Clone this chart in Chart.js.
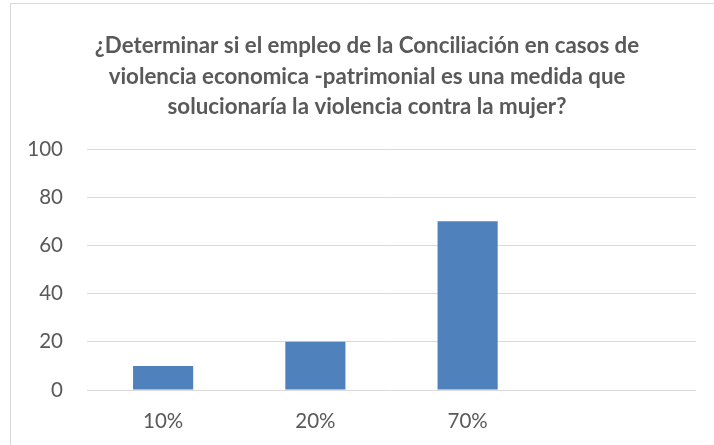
<!DOCTYPE html>
<html>
<head>
<meta charset="utf-8">
<script src="https://cdn.jsdelivr.net/npm/chart.js@4.4.1/dist/chart.umd.min.js"></script>
<style>
html,body{margin:0;padding:0;background:#fff;}
#wrap{width:714px;height:445px;position:relative;}
</style>
</head>
<body>
<div id="wrap"><canvas id="c" width="714" height="445"></canvas></div>
<script>
const titleLines = [
  '¿Determinar si el empleo de la Conciliación en casos de',
  'violencia economica -patrimonial es una medida que',
  'solucionaría la violencia contra la mujer?'
];
const categories = ['10%', '20%', '70%', ''];
const values = [10, 20, 70, null];
const yTicks = [0, 20, 40, 60, 80, 100];

const borderPlugin = {
  id: 'outerBorder',
  beforeDraw(chart) {
    const ctx = chart.ctx;
    ctx.save();
    ctx.fillStyle = '#fff';
    ctx.fillRect(0, 0, chart.width, chart.height);
    ctx.strokeStyle = '#d9d9d9';
    ctx.lineWidth = 1;
    ctx.beginPath();
    ctx.moveTo(10.5, chart.height);
    ctx.lineTo(10.5, 3.5);
    ctx.lineTo(chart.width, 3.5);
    ctx.stroke();
    ctx.restore();
  },
  afterDraw(chart) {
    const ctx = chart.ctx;
    ctx.save();
    ctx.fillStyle = '#595959';
    ctx.font = 'bold 22.3px Lato';
    ctx.textAlign = 'center';
    ctx.textBaseline = 'middle';
    titleLines.forEach((line, i) => ctx.fillText(line, 367, 46 + i * 30.5));
    ctx.restore();
  }
};

new Chart(document.getElementById('c'), {
  type: 'bar',
  data: {
    labels: categories,
    datasets: [{
      data: values,
      backgroundColor: '#4f81bd',
      categoryPercentage: 1,
      barPercentage: 0.395
    }]
  },
  plugins: [borderPlugin],
  options: {
    responsive: false,
    animation: false,
    layout: { padding: { left: 10, right: 18, top: 149, bottom: 0 } },
    plugins: {
      legend: { display: false },
      tooltip: { enabled: false },
      title: { display: false }
    },
    scales: {
      x: {
        grid: { display: false, drawTicks: false },
        border: { display: false },
        ticks: { color: '#595959', font: { family: 'Lato', size: 20.5 }, padding: 19 },
        afterFit(scale) { scale.height = 55; }
      },
      y: {
        min: 0, max: 100,
        afterBuildTicks(scale) { scale.ticks = yTicks.map(v => ({ value: v })); },
        grid: { color: '#d9d9d9', lineWidth: 1, drawTicks: false },
        border: { display: false },
        ticks: { color: '#595959', font: { family: 'Lato', size: 20.5 }, padding: 24 },
        afterFit(scale) { scale.width = 77; }
      }
    }
  }
});
</script>
</body>
</html>
